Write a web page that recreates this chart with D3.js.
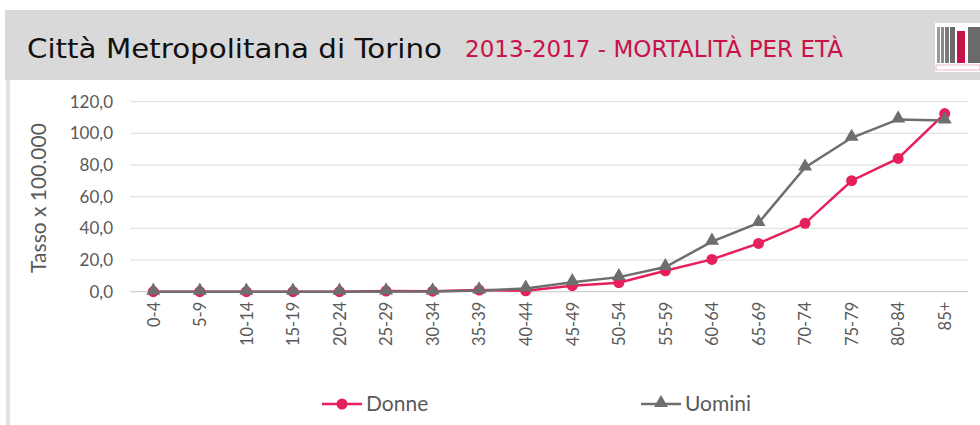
<!DOCTYPE html>
<html>
<head>
<meta charset="utf-8">
<script src="https://cdn.jsdelivr.net/npm/d3@7"></script>
<style>
  body { margin: 0; background: #fff; }
  svg { display: block; }
</style>
</head>
<body>
<div id="main"></div>
<script>
const ageGroups = ['0-4', '5-9', '10-14', '15-19', '20-24', '25-29', '30-34', '35-39', '40-44',
  '45-49', '50-54', '55-59', '60-64', '65-69', '70-74', '75-79', '80-84', '85+'];
const donne = [0, 0, 0, 0, 0, 0.4, 0.3, 1.0, 0.6, 3.8, 5.7, 13.2, 20.4, 30.5, 43.2, 70.1, 84.2, 112.5];
const uomini = [0, 0, 0, 0, 0, 0.2, 0.2, 0.8, 2.0, 6.0, 9.2, 15.6, 31.6, 43.4, 78.4, 97.2, 108.8, 108.2];
const yTicks = [0, 20, 40, 60, 80, 100, 120];
const seriesNames = ['Donne', 'Uomini'];

const width = 980;
const height = 425;
const pink = '#e5205a';
const grey = '#6e6e6e';
const textGrey = '#595959';
const tickFont = 'Lato, sans-serif';

const svg = d3.select('#main').append('svg').attr('width', width).attr('height', height);

// header band
svg.append('rect').attr('x', 5).attr('y', 10).attr('width', width - 5).attr('height', 70)
  .attr('fill', '#d9d9d9');
svg.append('rect').attr('x', 6).attr('y', 80).attr('width', 4).attr('height', height - 80)
  .attr('fill', '#e3e3e3');

svg.append('text')
  .attr('x', 27).attr('y', 58)
  .attr('textLength', 415)
  .attr('lengthAdjust', 'spacingAndGlyphs')
  .style('font-family', '"DejaVu Sans", sans-serif')
  .style('font-size', '27px')
  .style('fill', '#111')
  .text('Città Metropolitana di Torino');

svg.append('text')
  .attr('x', 465).attr('y', 57)
  .attr('textLength', 378)
  .attr('lengthAdjust', 'spacingAndGlyphs')
  .style('font-family', '"DejaVu Sans", sans-serif')
  .style('font-size', '23px')
  .style('fill', '#c8124a')
  .text('2013-2017 - MORTALITÀ PER ETÀ');

// small logo
const logo = svg.append('g').attr('transform', 'translate(935,23)');
logo.append('rect').attr('width', 45).attr('height', 49).attr('fill', '#fff');
[[2, 3, '#9a9a9a'], [6, 3, '#8a8a8a'], [10, 4, '#7a7a7a'], [15, 5, '#6a6a6a']].forEach(([x, w, c]) => {
  logo.append('rect').attr('x', x).attr('y', 4).attr('width', w).attr('height', 36).attr('fill', c);
});
logo.append('rect').attr('x', 22).attr('y', 8).attr('width', 8).attr('height', 32).attr('fill', '#c8124a');
logo.append('rect').attr('x', 33).attr('y', 4).attr('width', 12).attr('height', 36).attr('fill', '#6a6a6a');
logo.append('rect').attr('x', 1).attr('y', 42).attr('width', 44).attr('height', 5)
  .attr('fill', 'none').attr('stroke', '#e7a6b8').attr('stroke-width', 0.8);

// chart
const plotLeft = 130;
const plotRight = 968;
const plotTop = 101.7;
const plotBottom = 291.7;

const x = d3.scalePoint().domain(ageGroups).range([plotLeft, plotRight]).padding(0.5);
const y = d3.scaleLinear().domain([0, 120]).range([plotBottom, plotTop]);
const fmt = (d) => d3.format('.1f')(d).replace('.', ',');

const grid = svg.append('g');
grid.selectAll('line')
  .data(yTicks.filter((d) => d > 0))
  .enter()
  .append('line')
  .attr('x1', plotLeft).attr('x2', plotRight)
  .attr('y1', (d) => y(d)).attr('y2', (d) => y(d))
  .style('stroke', '#e2e2e2')
  .style('stroke-width', '1.3px');

const yAxis = svg.append('g')
  .attr('transform', `translate(${plotLeft},0)`)
  .call(d3.axisLeft(y).tickValues(yTicks).tickFormat(fmt).tickSize(0).tickPadding(17));
yAxis.select('.domain').remove();
yAxis.selectAll('text')
  .style('font-family', tickFont)
  .style('font-size', '17px')
  .style('fill', textGrey);

const xAxis = svg.append('g')
  .attr('transform', `translate(0,${plotBottom})`)
  .call(d3.axisBottom(x).tickSize(0).tickPadding(8));
xAxis.select('.domain')
  .attr('d', `M${plotLeft},0H${plotRight}`)
  .style('stroke', '#d0d0d0')
  .style('stroke-width', '1.3px');
xAxis.selectAll('text')
  .attr('transform', 'rotate(-90)')
  .attr('x', -10).attr('y', 0).attr('dy', '0.35em')
  .style('text-anchor', 'end')
  .style('font-family', tickFont)
  .style('font-size', '16.5px')
  .style('fill', textGrey);

svg.append('text')
  .attr('transform', 'translate(46,198) rotate(-90)')
  .style('text-anchor', 'middle')
  .style('font-family', tickFont)
  .style('font-size', '21px')
  .style('fill', textGrey)
  .text('Tasso x 100.000');

const line = d3.line().x((d, i) => x(ageGroups[i])).y((d) => y(d));
const triangle = d3.symbol().type(d3.symbolTriangle).size(85);

svg.append('path').datum(donne).attr('d', line)
  .style('fill', 'none').style('stroke', pink).style('stroke-width', '2.5px');
svg.append('path').datum(uomini).attr('d', line)
  .style('fill', 'none').style('stroke', grey).style('stroke-width', '2.5px');

svg.append('g').selectAll('circle')
  .data(donne)
  .enter()
  .append('circle')
  .attr('cx', (d, i) => x(ageGroups[i]))
  .attr('cy', (d) => y(d))
  .attr('r', 5.5)
  .style('fill', pink);

svg.append('g').selectAll('path')
  .data(uomini)
  .enter()
  .append('path')
  .attr('d', triangle)
  .attr('transform', (d, i) => `translate(${x(ageGroups[i])},${y(d) - 1})`)
  .style('fill', grey);

// legend
const legendX = [322, 641];
const legend = svg.append('g');
seriesNames.forEach((name, i) => {
  const g = legend.append('g').attr('transform', `translate(${legendX[i]},404)`);
  const c = i === 0 ? pink : grey;
  g.append('line').attr('x1', 0).attr('x2', 40).attr('y1', 0).attr('y2', 0)
    .style('stroke', c).style('stroke-width', '2.5px');
  if (i === 0) {
    g.append('circle').attr('cx', 20).attr('cy', 0).attr('r', 5.5).style('fill', c);
  } else {
    g.append('path').attr('d', triangle).attr('transform', 'translate(20,-1)').style('fill', c);
  }
  g.append('text')
    .attr('x', 44).attr('y', 0).attr('dy', '0.35em')
    .style('font-family', tickFont)
    .style('font-size', '21px')
    .style('fill', textGrey)
    .text(name);
});
</script>
</body>
</html>
